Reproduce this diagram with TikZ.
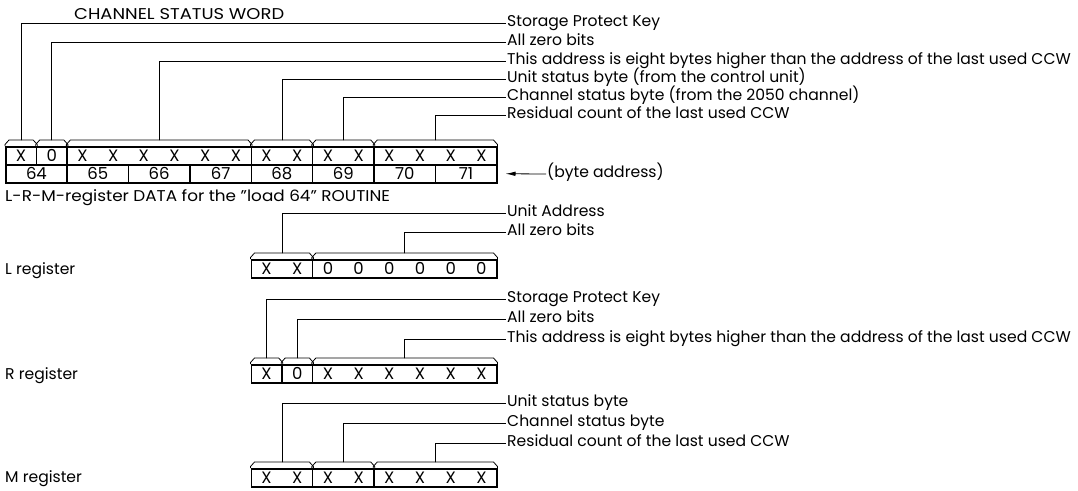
\documentclass[tikz,border=0pt]{standalone}
\usepackage{fontspec}
\setmainfont{Poppins}
\usetikzlibrary{arrows.meta}
\newcommand{\nib}[1]{\makebox[30.6875pt]{#1}}
\newcommand{\capof}[1]{\draw[capline] (#1.north west) -- ++(0,-1.5) -- ++(4,-4.5) -- ([xshift=-4pt,yshift=6pt]#1.north east) -- ([yshift=1.5pt]#1.north east) -- (#1.north east);}

\begin{document}
\begin{tikzpicture}[x=1pt, y=-1pt,
    field/.style={draw, line width=1.5pt, inner sep=0pt, minimum height=18pt, anchor=north west,
                  font=\fontsize{16.5}{18}\selectfont},
    capline/.style={line width=0.8pt},
    lead/.style={line width=0.8pt},
    tag/.style={anchor=west, inner sep=1pt, text height=7.5pt, text depth=0pt, font=\fontsize{15.6}{17}\selectfont},
    heading/.style={anchor=west, inner sep=0pt, font=\fontsize{15.6}{17}\selectfont}
]
    \useasboundingbox (0,0) rectangle (1078,490);

    % Channel status word
    \node[heading, font=\fontsize{15.6}{17}\addfontfeature{FakeStretch=1.15}] (cswtitle) at (74,14) {CHANNEL STATUS WORD};
    \foreach \nm/\k/\txt in {w1/0/{\nib{X}}, w2/1/{\nib{0}}, w3/2/{\nib{X}\nib{X}\nib{X}\nib{X}\nib{X}\nib{X}},
                             w4/8/{\nib{X}\nib{X}}, w5/10/{\nib{X}\nib{X}}, w6/12/{\nib{X}\nib{X}\nib{X}\nib{X}}}
        \node[field] (\nm) at (5+\k*30.6875,146) {\txt};
    \foreach \b [count=\i from 0] in {64,...,71}
        \node[field, minimum width=61.375pt] (a\b) at (5+\i*61.375,164) {\b};

    \node[tag] (k1) at (506,23) {Storage Protect Key};
    \node[tag] (k2) at (506,42) {All zero bits};
    \node[tag] (k3) at (506,61) {This address is eight bytes higher than the address of the last used CCW};
    \node[tag] (k4) at (506,79) {Unit status byte (from the control unit)};
    \node[tag] (k5) at (506,97) {Channel status byte (from the 2050 channel)};
    \node[tag] (k6) at (506,115) {Residual count of the last used CCW};
    \node[tag] (baddr) at (546,174) {(byte address)};
    \draw[lead, -{Latex[length=10pt,width=4.5pt]}] (baddr.west) -- ([xshift=8pt]a71.east);

    % L-R-M registers
    \node[heading, font=\fontsize{15.6}{17}\addfontfeature{FakeStretch=1.08}] (lrmtitle) at (5,198) {L-R-M-register DATA for the \char34load 64\char34{} ROUTINE};
    \node[heading] (lreg) at (5,271) {L register};
    \node[heading] (rreg) at (5,376) {R register};
    \node[heading] (mreg) at (5,479) {M register};

    \foreach \nm/\k/\y/\txt in {lf1/8/259/{\nib{X}\nib{X}}, lf2/10/259/{\nib{0}\nib{0}\nib{0}\nib{0}\nib{0}\nib{0}},
                                rf1/8/364/{\nib{X}}, rf2/9/364/{\nib{0}}, rf3/10/364/{\nib{X}\nib{X}\nib{X}\nib{X}\nib{X}\nib{X}},
                                mf1/8/468/{\nib{X}\nib{X}}, mf2/10/468/{\nib{X}\nib{X}}, mf3/12/468/{\nib{X}\nib{X}\nib{X}\nib{X}}}
        \node[field] (\nm) at (5+\k*30.6875,\y) {\txt};

    \node[tag] (l1) at (506,213) {Unit Address};
    \node[tag] (l2) at (506,232) {All zero bits};
    \node[tag] (r1) at (506,299) {Storage Protect Key};
    \node[tag] (r2) at (506,319) {All zero bits};
    \node[tag] (r3) at (506,339) {This address is eight bytes higher than the address of the last used CCW};
    \node[tag] (m1) at (506,403) {Unit status byte};
    \node[tag] (m2) at (506,423) {Channel status byte};
    \node[tag] (m3) at (506,443) {Residual count of the last used CCW};

    % Caps and leader lines
    \foreach \nm in {w1,w2,w3,w4,w5,w6,lf1,lf2,rf1,rf2,rf3,mf1,mf2,mf3}
        \capof{\nm}
    \foreach \nm/\lb in {w1/k1, w2/k2, w3/k3, w4/k4, w5/k5, w6/k6, lf1/l1, lf2/l2,
                         rf1/r1, rf2/r2, rf3/r3, mf1/m1, mf2/m2, mf3/m3}
        \draw[lead] ([yshift=6pt]\nm.north) |- (\lb.west);
\end{tikzpicture}
\end{document}
